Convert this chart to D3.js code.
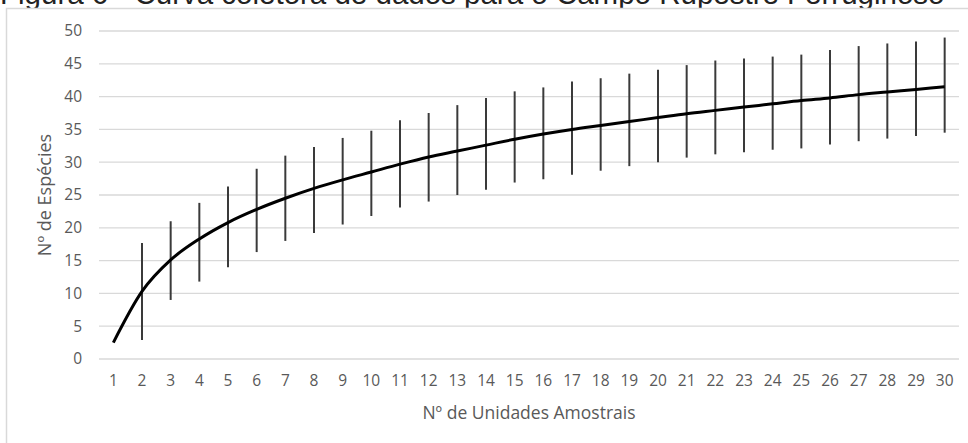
<!DOCTYPE html>
<html>
<head>
<meta charset="utf-8">
<script src="https://cdn.jsdelivr.net/npm/d3@7"></script>
<style>
  html, body { margin: 0; padding: 0; background: #fff; }
  svg { display: block; }
</style>
</head>
<body>
<div id="chart"></div>
<script>
'use strict';

// amostras (unidades amostrais)
var units = d3.range(1, 31);
// riqueza media estimada
var meanValues = [2.5, 10.3, 15.1, 18.3, 20.8, 22.8, 24.5, 26.0, 27.3, 28.5,
                  29.7, 30.8, 31.7, 32.6, 33.5, 34.3, 35.0, 35.6, 36.2, 36.8,
                  37.4, 37.9, 38.4, 38.9, 39.4, 39.8, 40.3, 40.7, 41.1, 41.5];
// limites das barras de erro
var upperValues = [2.5, 17.7, 21.0, 23.8, 26.3, 29.0, 31.0, 32.3, 33.7, 34.8,
                   36.4, 37.5, 38.7, 39.8, 40.8, 41.4, 42.3, 42.8, 43.5, 44.1,
                   44.8, 45.5, 45.8, 46.1, 46.4, 47.1, 47.7, 48.1, 48.4, 49.0];
var lowerValues = [2.5, 2.9, 9.0, 11.8, 14.0, 16.3, 18.0, 19.2, 20.5, 21.8,
                   23.1, 24.0, 25.0, 25.8, 26.9, 27.4, 28.1, 28.7, 29.4, 30.0,
                   30.7, 31.2, 31.5, 31.9, 32.1, 32.7, 33.2, 33.6, 34.0, 34.5];
var yTicks = [0, 5, 10, 15, 20, 25, 30, 35, 40, 45, 50];

var W = 968, H = 443;
var margin = {top: 31, right: 9, bottom: 84, left: 99};
var width = W - margin.left - margin.right;
var height = H - margin.top - margin.bottom;

var svg = d3.select('#chart').append('svg')
  .attr('width', W)
  .attr('height', H);

// legenda da figura, recortada no topo como no original
svg.append('text')
  .attr('x', 0)
  .attr('y', 4)
  .style('font-family', 'Liberation Sans, Arial, sans-serif')
  .style('font-size', '29.5px')
  .style('fill', '#222')
  .text('Figura 6 - Curva coletora de dados para o Campo Rupestre Ferruginoso');

// moldura
svg.append('rect')
  .attr('x', 6.5)
  .attr('y', 8.5)
  .attr('width', W + 10)
  .attr('height', H + 10)
  .style('fill', '#fff')
  .style('stroke', '#d9d9d9')
  .style('stroke-width', 1.5);

var g = svg.append('g')
  .attr('transform', 'translate(' + margin.left + ',' + margin.top + ')');

var x = d3.scaleBand().domain(units).range([0, width]);
var y = d3.scaleLinear().domain([0, 50]).range([height, 0]);
var cx = function(d){ return x(d) + x.bandwidth() / 2; };

// grade
g.append('g')
  .selectAll('line')
  .data(yTicks)
  .enter().append('line')
    .attr('x1', 0)
    .attr('x2', width)
    .attr('y1', function(d){ return y(d); })
    .attr('y2', function(d){ return y(d); })
    .style('stroke', '#d9d9d9')
    .style('stroke-width', 1.3);

var yAxis = g.append('g')
  .call(d3.axisLeft(y).tickValues(yTicks).tickSize(0).tickPadding(17));
var xAxis = g.append('g')
  .attr('transform', 'translate(0,' + height + ')')
  .call(d3.axisBottom(x).tickSize(0).tickPadding(16));

[yAxis, xAxis].forEach(function(a){
  a.select('.domain').remove();
  a.selectAll('text')
    .style('font-family', 'Open Sans, sans-serif')
    .style('font-size', '15.5px')
    .style('fill', '#595959');
});

// barras de erro
g.append('g')
  .selectAll('line')
  .data(units)
  .enter().append('line')
    .attr('x1', cx)
    .attr('x2', cx)
    .attr('y1', function(d, i){ return y(upperValues[i]); })
    .attr('y2', function(d, i){ return y(lowerValues[i]); })
    .style('stroke', '#3a3a3a')
    .style('stroke-width', 2);

// curva media
var line = d3.line()
  .x(function(d){ return cx(d); })
  .y(function(d, i){ return y(meanValues[i]); })
  .curve(d3.curveMonotoneX);

g.append('path')
  .datum(units)
  .attr('d', line)
  .style('fill', 'none')
  .style('stroke', '#000')
  .style('stroke-width', 3);

// titulos dos eixos
g.append('text')
  .attr('x', width / 2)
  .attr('y', height + 60)
  .style('text-anchor', 'middle')
  .style('font-family', 'Open Sans, sans-serif')
  .style('font-size', '17.5px')
  .style('fill', '#595959')
  .text('Nº de Unidades Amostrais');

g.append('text')
  .attr('transform', 'translate(' + (-48) + ',' + (height / 2) + ') rotate(-90)')
  .style('text-anchor', 'middle')
  .style('font-family', 'Open Sans, sans-serif')
  .style('font-size', '18px')
  .style('fill', '#595959')
  .text('Nº de Espécies');
</script>
</body>
</html>
